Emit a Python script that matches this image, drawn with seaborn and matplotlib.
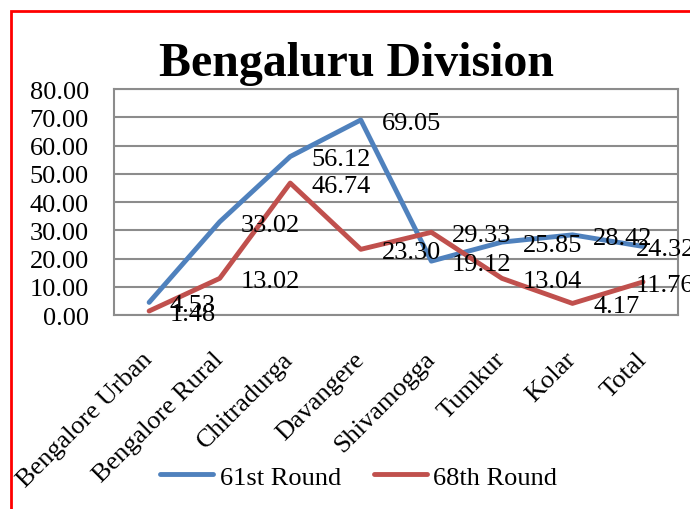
import numpy as np
import pandas as pd
import matplotlib
matplotlib.use('Agg')
import matplotlib.pyplot as plt
from matplotlib.patches import Rectangle
import seaborn as sns

districts = ['Bengalore Urban', 'Bengalore Rural', 'Chitradurga', 'Davangere',
             'Shivamogga', 'Tumkur', 'Kolar', 'Total']
round_61 = [4.53, 33.02, 56.12, 69.05, 19.12, 25.85, 28.42, 24.32]
round_68 = [1.48, 13.02, 46.74, 23.30, 29.33, 13.04, 4.17, 11.76]
series_names = ['61st Round', '68th Round']

sns.set_style('white')
plt.rcParams['font.family'] = ['Liberation Serif', 'DejaVu Serif']
for key in ('text.color', 'axes.labelcolor', 'xtick.color', 'ytick.color'):
    plt.rcParams[key] = 'black'

df = pd.DataFrame({
    'district': districts * 2,
    'value': round_61 + round_68,
    'round': [series_names[0]] * len(districts) + [series_names[1]] * len(districts),
})

fig = plt.figure(figsize=(6.9, 5.1), dpi=100)
ax = fig.add_axes([0.165, 0.380, 0.818, 0.4435])

palette = {'61st Round': '#4F81BD', '68th Round': '#C0504D'}
sns.lineplot(data=df, x='district', y='value', hue='round', palette=palette,
             sort=False, linewidth=3.5, ax=ax, legend=False)

# data labels sit to the right of each point; the last ones get pushed back in
for vals in (round_61, round_68):
    for i, v in enumerate(vals):
        dx = 15 if i < len(vals) - 1 else -5
        ax.annotate(f'{v:.2f}', (i, v), xytext=(dx, -2), textcoords='offset points',
                    ha='left', va='center', fontsize=19, annotation_clip=False)

ax.set_xlim(-0.5, len(districts) - 0.5)
ax.set_ylim(0, 80)
ax.set_yticks(np.arange(0, 81, 10))
ax.set_yticklabels([f'{t:.2f}' for t in np.arange(0, 81, 10)], fontsize=19)
ax.set_xticks(range(len(districts)))
ax.set_xticklabels(districts, rotation=45, ha='right', va='center',
                   rotation_mode='anchor', fontsize=19)
ax.tick_params(axis='y', length=0, pad=18)
ax.tick_params(axis='x', length=0, pad=29)
ax.grid(axis='y', color='#8c8c8c', linewidth=1.5)
ax.set_axisbelow(True)
for sp in ax.spines.values():
    sp.set_color('#8c8c8c')
    sp.set_linewidth(1.5)
ax.set_xlabel('')
ax.set_ylabel('')

fig.text(0.517, 1 - 76 / 510, 'Bengaluru Division', ha='center', va='baseline',
         fontsize=34.5, fontweight='bold')

handles = [plt.Line2D([], [], color=palette[n], linewidth=3.5) for n in series_names]
fig.legend(handles, series_names, loc='center', bbox_to_anchor=(0.52, 0.063),
           ncol=2, frameon=False, fontsize=19, handlelength=2.0,
           handletextpad=0.25, columnspacing=1.25)

# red outer border
fig.patches.append(Rectangle((11 / 690, -0.05), 1.2, 1 - 12 / 510 + 0.05,
                             transform=fig.transFigure, fill=False,
                             edgecolor='red', linewidth=2))

fig.savefig('out.png', dpi=100)
